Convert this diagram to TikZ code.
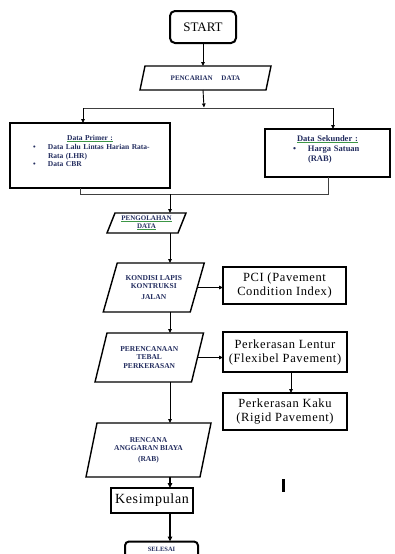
\documentclass[tikz,border=0pt]{standalone}
\usepackage{fontspec}
\setmainfont{Liberation Serif}
\newfontfamily\spaced[LetterSpace=5]{Liberation Serif}
\usetikzlibrary{calc,arrows.meta}
\definecolor{navy}{RGB}{35,45,95}
\definecolor{ugreen}{RGB}{60,150,70}
\newlength\gullen
\newcommand\gul[1]{\settowidth\gullen{#1}\leavevmode\rlap{\textcolor{ugreen}{\rule[-1.3pt]{\gullen}{0.6pt}}}#1}
\newcommand\drawpara[2]{\draw[line width=1.4pt, line join=miter]
  ($(#1.north west)+(#2,0)$) -- ($(#1.north east)+(#2,0)$) --
  ($(#1.south east)-(#2,0)$) -- ($(#1.south west)-(#2,0)$) -- cycle;}
\begin{document}
\begin{tikzpicture}[x=1pt,y=-1pt,
  arr/.style={-{Triangle[length=4pt,width=3.5pt]}, line width=0.9pt},
  arrthick/.style={-{Triangle[length=5pt,width=4.5pt]}, line width=1.6pt},
  conn/.style={line width=0.8pt, draw=black!75},
  thickbox/.style={draw, line width=2pt, inner sep=0pt, outer sep=0pt},
  box/.style={draw, line width=1.4pt, inner sep=0pt, outer sep=0pt, align=center,
    font=\fontsize{12.5}{14}\spaced},
  para/.style={inner sep=0pt, outer sep=0pt, align=center,
    font=\fontsize{7.5}{8.5}\selectfont\bfseries, text=navy},
]
\useasboundingbox (0,0) rectangle (394,554);

% START
\node[thickbox, rounded corners=5pt, minimum width=66, minimum height=32,
  font=\fontsize{13}{15}\selectfont] (start) at (203,27) {START};

% PENCARIAN DATA
\node[para, minimum width=126, minimum height=24, font=\fontsize{7}{8}\selectfont\bfseries]
  (penc) at (205.5,78) {PENCARIAN\ \ \ \ \ DATA};
\drawpara{penc}{2.5}

\coordinate (split) at (204,107.5);
\coordinate (lj) at (83,108);
\coordinate (rj) at (333,108);
\coordinate (lb) at (80,194);
\coordinate (rb) at (328,194);
\coordinate (sp) at (170,0);

\draw[arr] (start.south) -- (penc.north -| start.south);
\draw[arr] (penc.south -| start.south) -- (split);

% Data Primer
\node[thickbox, minimum width=160, minimum height=65, text width=160,
  font=\fontsize{7.5}{9.2}\selectfont\bfseries, text=navy] (prim) at (90,155.5)
  {\parindent=0pt\centering\gul{Data Primer :}\par\raggedright
   \hspace*{23pt}\makebox[15pt][l]{\textbullet}\parbox[t]{107pt}{\leftskip=0pt\rightskip=0pt\relax
   Data Lalu Lintas Harian Rata-\linebreak Rata (LHR)}\par
   \hspace*{23pt}\makebox[15pt][l]{\textbullet}Data CBR\par\vspace*{10pt}};

% Data Sekunder
\node[thickbox, minimum width=125, minimum height=48, text width=125,
  font=\fontsize{8.5}{10}\selectfont\bfseries, text=navy] (sek) at (327.5,153)
  {\parindent=0pt\centering\gul{Data Sekunder :}\par\raggedright
   \hspace*{28pt}\makebox[15pt][l]{\textbullet}\parbox[t]{80pt}{Harga Satuan\\(RAB)}\par\vspace*{8pt}};

\draw[conn] (lj) -- (rj);
\draw[arr] (lj) -- (lj |- prim.north);
\draw[arr] (rj) -- (rj |- sek.north);

\draw[conn] (lb |- prim.south) -- (lb) -- (rb) -- (rb |- sek.south);

% PENGOLAHAN DATA
\node[para, minimum width=71, minimum height=20, font=\fontsize{7}{8}\selectfont\bfseries]
  (peng) at (146.5,223) {\gul{PENGOLAHAN}\\\gul{DATA}};
\drawpara{peng}{4}
\draw[arr] (sp |- lb) -- (sp |- peng.north);

% KONDISI
\node[para, minimum width=87, minimum height=49] (kond) at (153.75,287.5)
  {KONDISI LAPIS\\KONTRUKSI\\[2pt]JALAN};
\drawpara{kond}{7}
\draw[arr] (peng.south -| sp) -- (kond.north -| sp);

\node[box, minimum width=123, minimum height=37] (pci) at (284.5,285.5)
  {PCI (Pavement\\Condition Index)};
\draw[arr] (kond.east) -- (kond.east -| pci.west);

% PERENCANAAN
\node[para, minimum width=96.5, minimum height=49] (per) at (149.25,357.5)
  {PERENCANAAN\\TEBAL\\PERKERASAN};
\drawpara{per}{6}
\draw[arr] (kond.south -| sp) -- (per.north -| sp);

\node[box, minimum width=124, minimum height=40] (len) at (285,352)
  {Perkerasan Lentur\\(Flexibel Pavement)};
\node[box, minimum width=124, minimum height=37] (kaku) at (285,411.5)
  {Perkerasan Kaku\\(Rigid Pavement)};
\draw[arr] (per.east) -- (per.east -| len.west);
\draw[arr] ($(len.south)+(6,0)$) -- ($(kaku.north)+(6,0)$);

% RENCANA
\node[para, minimum width=114, minimum height=54] (ren) at (148.5,450)
  {RENCANA\\ANGGARAN BIAYA\\[2pt](RAB)};
\drawpara{ren}{5.5}
\draw[arr] (per.south -| sp) -- (ren.north -| sp);

% Kesimpulan
\node[thickbox, minimum width=82, minimum height=25,
  font=\fontsize{14}{16}\spaced] (kes) at (152,500.5) {Kesimpulan};
\draw[arrthick] (ren.south -| sp) -- (kes.north -| sp);

% SELESAI (box runs past the bottom edge)
\node[inner sep=0pt, outer sep=0pt, minimum width=73, minimum height=8,
  font=\fontsize{6.5}{8}\selectfont\bfseries, text=navy] (sel) at (161.5,549.5) {SELESAI};
\draw[line width=2pt, rounded corners=4pt]
  ($(sel.south west)+(0,8)$) |- ($(sel.north)+(0,-4)$) -| ($(sel.south east)+(0,8)$);
\draw[arrthick] (kes.south -| sp) -- ($(sel.north -| sp)+(0,-4)$);

% stray mark
\fill (282,478.5) rectangle (284.5,492);
\end{tikzpicture}
\end{document}
